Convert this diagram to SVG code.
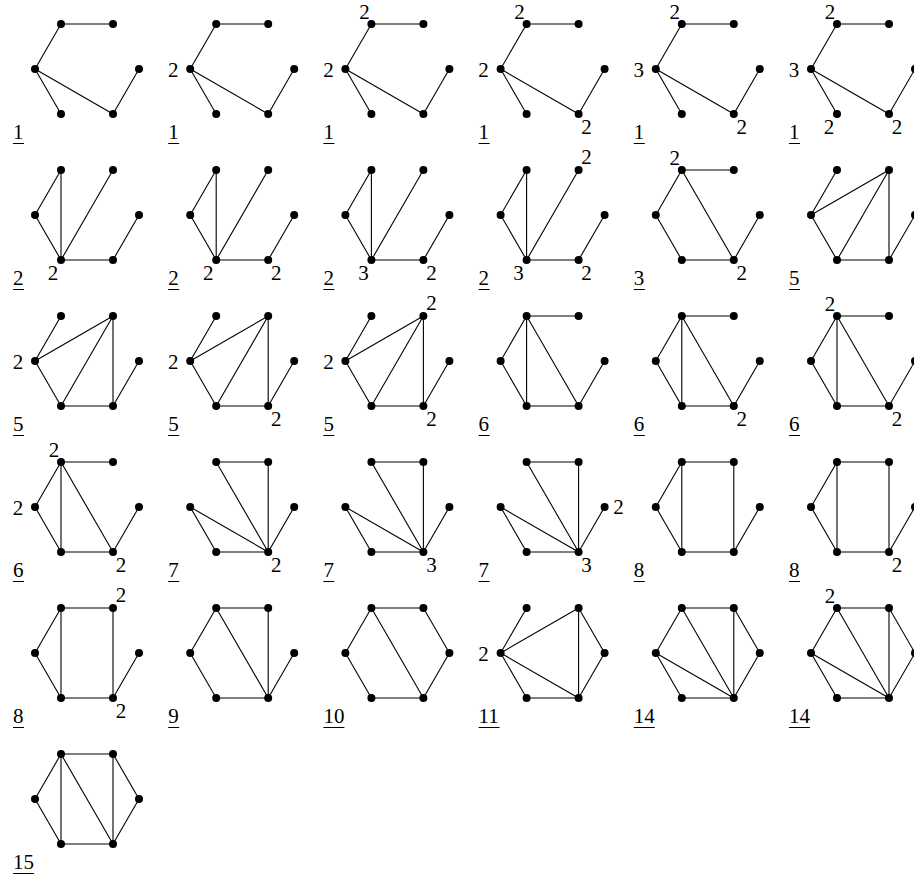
<svg xmlns="http://www.w3.org/2000/svg" width="914" height="881" viewBox="0 0 914 881" font-family="'Liberation Serif', 'Times New Roman', serif">
<style>
.e line{stroke:#000;stroke-width:1.1;fill:none}
circle{fill:#000}
text{font-family:'Liberation Serif','Times New Roman',serif;font-size:21px;fill:#000}
.v{text-anchor:middle}
.ul{stroke:#000;stroke-width:1}
</style>
<defs>
<circle id="dot" r="4"/>
</defs>
<rect width="914" height="881" fill="#fff"/>

<!-- Row 1 -->
<g id="g1" transform="translate(0,0)">
<g class="e"><line x1="61" y1="24" x2="113" y2="24"/><line x1="61" y1="24" x2="35" y2="69"/><line x1="35" y1="69" x2="61" y2="114"/><line x1="35" y1="69" x2="113" y2="114"/><line x1="113" y1="114" x2="139" y2="69"/></g>
<g id="g1-A"><use href="#dot" x="61" y="24"/></g><g id="g1-B"><use href="#dot" x="113" y="24"/></g><g id="g1-C"><use href="#dot" x="139" y="69"/></g><g id="g1-D"><use href="#dot" x="113" y="114"/></g><g id="g1-E"><use href="#dot" x="61" y="114"/></g><g id="g1-F"><use href="#dot" x="35" y="69"/></g>
<text x="13" y="139">1</text><line class="ul" x1="13" y1="143.5" x2="24" y2="143.5"/>
</g>
<g id="g2" transform="translate(155.2,0)">
<g class="e"><line x1="61" y1="24" x2="113" y2="24"/><line x1="61" y1="24" x2="35" y2="69"/><line x1="35" y1="69" x2="61" y2="114"/><line x1="35" y1="69" x2="113" y2="114"/><line x1="113" y1="114" x2="139" y2="69"/></g>
<g id="g2-A"><use href="#dot" x="61" y="24"/></g><g id="g2-B"><use href="#dot" x="113" y="24"/></g><g id="g2-C"><use href="#dot" x="139" y="69"/></g><g id="g2-D"><use href="#dot" x="113" y="114"/></g><g id="g2-E"><use href="#dot" x="61" y="114"/></g><g id="g2-F"><use href="#dot" x="35" y="69"/><text class="v" x="18" y="77">2</text></g>
<text x="13" y="139">1</text><line class="ul" x1="13" y1="143.5" x2="24" y2="143.5"/>
</g>
<g id="g3" transform="translate(310.4,0)">
<g class="e"><line x1="61" y1="24" x2="113" y2="24"/><line x1="61" y1="24" x2="35" y2="69"/><line x1="35" y1="69" x2="61" y2="114"/><line x1="35" y1="69" x2="113" y2="114"/><line x1="113" y1="114" x2="139" y2="69"/></g>
<g id="g3-A"><use href="#dot" x="61" y="24"/><text class="v" x="54" y="19">2</text></g><g id="g3-B"><use href="#dot" x="113" y="24"/></g><g id="g3-C"><use href="#dot" x="139" y="69"/></g><g id="g3-D"><use href="#dot" x="113" y="114"/></g><g id="g3-E"><use href="#dot" x="61" y="114"/></g><g id="g3-F"><use href="#dot" x="35" y="69"/><text class="v" x="18" y="77">2</text></g>
<text x="13" y="139">1</text><line class="ul" x1="13" y1="143.5" x2="24" y2="143.5"/>
</g>
<g id="g4" transform="translate(465.6,0)">
<g class="e"><line x1="61" y1="24" x2="113" y2="24"/><line x1="61" y1="24" x2="35" y2="69"/><line x1="35" y1="69" x2="61" y2="114"/><line x1="35" y1="69" x2="113" y2="114"/><line x1="113" y1="114" x2="139" y2="69"/></g>
<g id="g4-A"><use href="#dot" x="61" y="24"/><text class="v" x="54" y="19">2</text></g><g id="g4-B"><use href="#dot" x="113" y="24"/></g><g id="g4-C"><use href="#dot" x="139" y="69"/></g><g id="g4-D"><use href="#dot" x="113" y="114"/><text class="v" x="121" y="134">2</text></g><g id="g4-E"><use href="#dot" x="61" y="114"/></g><g id="g4-F"><use href="#dot" x="35" y="69"/><text class="v" x="18" y="77">2</text></g>
<text x="13" y="139">1</text><line class="ul" x1="13" y1="143.5" x2="24" y2="143.5"/>
</g>
<g id="g5" transform="translate(620.8,0)">
<g class="e"><line x1="61" y1="24" x2="113" y2="24"/><line x1="61" y1="24" x2="35" y2="69"/><line x1="35" y1="69" x2="61" y2="114"/><line x1="35" y1="69" x2="113" y2="114"/><line x1="113" y1="114" x2="139" y2="69"/></g>
<g id="g5-A"><use href="#dot" x="61" y="24"/><text class="v" x="54" y="19">2</text></g><g id="g5-B"><use href="#dot" x="113" y="24"/></g><g id="g5-C"><use href="#dot" x="139" y="69"/></g><g id="g5-D"><use href="#dot" x="113" y="114"/><text class="v" x="121" y="134">2</text></g><g id="g5-E"><use href="#dot" x="61" y="114"/></g><g id="g5-F"><use href="#dot" x="35" y="69"/><text class="v" x="18" y="77">3</text></g>
<text x="13" y="139">1</text><line class="ul" x1="13" y1="143.5" x2="24" y2="143.5"/>
</g>
<g id="g6" transform="translate(776,0)">
<g class="e"><line x1="61" y1="24" x2="113" y2="24"/><line x1="61" y1="24" x2="35" y2="69"/><line x1="35" y1="69" x2="61" y2="114"/><line x1="35" y1="69" x2="113" y2="114"/><line x1="113" y1="114" x2="139" y2="69"/></g>
<g id="g6-A"><use href="#dot" x="61" y="24"/><text class="v" x="54" y="19">2</text></g><g id="g6-B"><use href="#dot" x="113" y="24"/></g><g id="g6-C"><use href="#dot" x="139" y="69"/></g><g id="g6-D"><use href="#dot" x="113" y="114"/><text class="v" x="121" y="134">2</text></g><g id="g6-E"><use href="#dot" x="61" y="114"/><text class="v" x="53" y="134">2</text></g><g id="g6-F"><use href="#dot" x="35" y="69"/><text class="v" x="18" y="77">3</text></g>
<text x="13" y="139">1</text><line class="ul" x1="13" y1="143.5" x2="24" y2="143.5"/>
</g>

<!-- Row 2 -->
<g id="g7" transform="translate(0,146)">
<g class="e"><line x1="61" y1="24" x2="35" y2="69"/><line x1="61" y1="24" x2="61" y2="114"/><line x1="35" y1="69" x2="61" y2="114"/><line x1="61" y1="114" x2="113" y2="24"/><line x1="61" y1="114" x2="113" y2="114"/><line x1="113" y1="114" x2="139" y2="69"/></g>
<g id="g7-A"><use href="#dot" x="61" y="24"/></g><g id="g7-B"><use href="#dot" x="113" y="24"/></g><g id="g7-C"><use href="#dot" x="139" y="69"/></g><g id="g7-D"><use href="#dot" x="113" y="114"/></g><g id="g7-E"><use href="#dot" x="61" y="114"/><text class="v" x="53" y="134">2</text></g><g id="g7-F"><use href="#dot" x="35" y="69"/></g>
<text x="13" y="139">2</text><line class="ul" x1="13" y1="143.5" x2="24" y2="143.5"/>
</g>
<g id="g8" transform="translate(155.2,146)">
<g class="e"><line x1="61" y1="24" x2="35" y2="69"/><line x1="61" y1="24" x2="61" y2="114"/><line x1="35" y1="69" x2="61" y2="114"/><line x1="61" y1="114" x2="113" y2="24"/><line x1="61" y1="114" x2="113" y2="114"/><line x1="113" y1="114" x2="139" y2="69"/></g>
<g id="g8-A"><use href="#dot" x="61" y="24"/></g><g id="g8-B"><use href="#dot" x="113" y="24"/></g><g id="g8-C"><use href="#dot" x="139" y="69"/></g><g id="g8-D"><use href="#dot" x="113" y="114"/><text class="v" x="121" y="134">2</text></g><g id="g8-E"><use href="#dot" x="61" y="114"/><text class="v" x="53" y="134">2</text></g><g id="g8-F"><use href="#dot" x="35" y="69"/></g>
<text x="13" y="139">2</text><line class="ul" x1="13" y1="143.5" x2="24" y2="143.5"/>
</g>
<g id="g9" transform="translate(310.4,146)">
<g class="e"><line x1="61" y1="24" x2="35" y2="69"/><line x1="61" y1="24" x2="61" y2="114"/><line x1="35" y1="69" x2="61" y2="114"/><line x1="61" y1="114" x2="113" y2="24"/><line x1="61" y1="114" x2="113" y2="114"/><line x1="113" y1="114" x2="139" y2="69"/></g>
<g id="g9-A"><use href="#dot" x="61" y="24"/></g><g id="g9-B"><use href="#dot" x="113" y="24"/></g><g id="g9-C"><use href="#dot" x="139" y="69"/></g><g id="g9-D"><use href="#dot" x="113" y="114"/><text class="v" x="121" y="134">2</text></g><g id="g9-E"><use href="#dot" x="61" y="114"/><text class="v" x="53" y="134">3</text></g><g id="g9-F"><use href="#dot" x="35" y="69"/></g>
<text x="13" y="139">2</text><line class="ul" x1="13" y1="143.5" x2="24" y2="143.5"/>
</g>
<g id="g10" transform="translate(465.6,146)">
<g class="e"><line x1="61" y1="24" x2="35" y2="69"/><line x1="61" y1="24" x2="61" y2="114"/><line x1="35" y1="69" x2="61" y2="114"/><line x1="61" y1="114" x2="113" y2="24"/><line x1="61" y1="114" x2="113" y2="114"/><line x1="113" y1="114" x2="139" y2="69"/></g>
<g id="g10-A"><use href="#dot" x="61" y="24"/></g><g id="g10-B"><use href="#dot" x="113" y="24"/><text class="v" x="121" y="18">2</text></g><g id="g10-C"><use href="#dot" x="139" y="69"/></g><g id="g10-D"><use href="#dot" x="113" y="114"/><text class="v" x="121" y="134">2</text></g><g id="g10-E"><use href="#dot" x="61" y="114"/><text class="v" x="53" y="134">3</text></g><g id="g10-F"><use href="#dot" x="35" y="69"/></g>
<text x="13" y="139">2</text><line class="ul" x1="13" y1="143.5" x2="24" y2="143.5"/>
</g>
<g id="g11" transform="translate(620.8,146)">
<g class="e"><line x1="61" y1="24" x2="113" y2="24"/><line x1="61" y1="24" x2="35" y2="69"/><line x1="35" y1="69" x2="61" y2="114"/><line x1="61" y1="114" x2="113" y2="114"/><line x1="61" y1="24" x2="113" y2="114"/><line x1="113" y1="114" x2="139" y2="69"/></g>
<g id="g11-A"><use href="#dot" x="61" y="24"/><text class="v" x="54" y="19">2</text></g><g id="g11-B"><use href="#dot" x="113" y="24"/></g><g id="g11-C"><use href="#dot" x="139" y="69"/></g><g id="g11-D"><use href="#dot" x="113" y="114"/><text class="v" x="121" y="134">2</text></g><g id="g11-E"><use href="#dot" x="61" y="114"/></g><g id="g11-F"><use href="#dot" x="35" y="69"/></g>
<text x="13" y="139">3</text><line class="ul" x1="13" y1="143.5" x2="24" y2="143.5"/>
</g>
<g id="g12" transform="translate(776,146)">
<g class="e"><line x1="61" y1="24" x2="35" y2="69"/><line x1="35" y1="69" x2="113" y2="24"/><line x1="35" y1="69" x2="61" y2="114"/><line x1="61" y1="114" x2="113" y2="24"/><line x1="113" y1="24" x2="113" y2="114"/><line x1="61" y1="114" x2="113" y2="114"/><line x1="113" y1="114" x2="139" y2="69"/></g>
<g id="g12-A"><use href="#dot" x="61" y="24"/></g><g id="g12-B"><use href="#dot" x="113" y="24"/></g><g id="g12-C"><use href="#dot" x="139" y="69"/></g><g id="g12-D"><use href="#dot" x="113" y="114"/></g><g id="g12-E"><use href="#dot" x="61" y="114"/></g><g id="g12-F"><use href="#dot" x="35" y="69"/></g>
<text x="13" y="139">5</text><line class="ul" x1="13" y1="143.5" x2="24" y2="143.5"/>
</g>

<!-- Row 3 -->
<g id="g13" transform="translate(0,292)">
<g class="e"><line x1="61" y1="24" x2="35" y2="69"/><line x1="35" y1="69" x2="113" y2="24"/><line x1="35" y1="69" x2="61" y2="114"/><line x1="61" y1="114" x2="113" y2="24"/><line x1="113" y1="24" x2="113" y2="114"/><line x1="61" y1="114" x2="113" y2="114"/><line x1="113" y1="114" x2="139" y2="69"/></g>
<g id="g13-A"><use href="#dot" x="61" y="24"/></g><g id="g13-B"><use href="#dot" x="113" y="24"/></g><g id="g13-C"><use href="#dot" x="139" y="69"/></g><g id="g13-D"><use href="#dot" x="113" y="114"/></g><g id="g13-E"><use href="#dot" x="61" y="114"/></g><g id="g13-F"><use href="#dot" x="35" y="69"/><text class="v" x="18" y="77">2</text></g>
<text x="13" y="139">5</text><line class="ul" x1="13" y1="143.5" x2="24" y2="143.5"/>
</g>
<g id="g14" transform="translate(155.2,292)">
<g class="e"><line x1="61" y1="24" x2="35" y2="69"/><line x1="35" y1="69" x2="113" y2="24"/><line x1="35" y1="69" x2="61" y2="114"/><line x1="61" y1="114" x2="113" y2="24"/><line x1="113" y1="24" x2="113" y2="114"/><line x1="61" y1="114" x2="113" y2="114"/><line x1="113" y1="114" x2="139" y2="69"/></g>
<g id="g14-A"><use href="#dot" x="61" y="24"/></g><g id="g14-B"><use href="#dot" x="113" y="24"/></g><g id="g14-C"><use href="#dot" x="139" y="69"/></g><g id="g14-D"><use href="#dot" x="113" y="114"/><text class="v" x="121" y="134">2</text></g><g id="g14-E"><use href="#dot" x="61" y="114"/></g><g id="g14-F"><use href="#dot" x="35" y="69"/><text class="v" x="18" y="77">2</text></g>
<text x="13" y="139">5</text><line class="ul" x1="13" y1="143.5" x2="24" y2="143.5"/>
</g>
<g id="g15" transform="translate(310.4,292)">
<g class="e"><line x1="61" y1="24" x2="35" y2="69"/><line x1="35" y1="69" x2="113" y2="24"/><line x1="35" y1="69" x2="61" y2="114"/><line x1="61" y1="114" x2="113" y2="24"/><line x1="113" y1="24" x2="113" y2="114"/><line x1="61" y1="114" x2="113" y2="114"/><line x1="113" y1="114" x2="139" y2="69"/></g>
<g id="g15-A"><use href="#dot" x="61" y="24"/></g><g id="g15-B"><use href="#dot" x="113" y="24"/><text class="v" x="121" y="18">2</text></g><g id="g15-C"><use href="#dot" x="139" y="69"/></g><g id="g15-D"><use href="#dot" x="113" y="114"/><text class="v" x="121" y="134">2</text></g><g id="g15-E"><use href="#dot" x="61" y="114"/></g><g id="g15-F"><use href="#dot" x="35" y="69"/><text class="v" x="18" y="77">2</text></g>
<text x="13" y="139">5</text><line class="ul" x1="13" y1="143.5" x2="24" y2="143.5"/>
</g>
<g id="g16" transform="translate(465.6,292)">
<g class="e"><line x1="61" y1="24" x2="113" y2="24"/><line x1="61" y1="24" x2="35" y2="69"/><line x1="35" y1="69" x2="61" y2="114"/><line x1="61" y1="24" x2="61" y2="114"/><line x1="61" y1="24" x2="113" y2="114"/><line x1="61" y1="114" x2="113" y2="114"/><line x1="113" y1="114" x2="139" y2="69"/></g>
<g id="g16-A"><use href="#dot" x="61" y="24"/></g><g id="g16-B"><use href="#dot" x="113" y="24"/></g><g id="g16-C"><use href="#dot" x="139" y="69"/></g><g id="g16-D"><use href="#dot" x="113" y="114"/></g><g id="g16-E"><use href="#dot" x="61" y="114"/></g><g id="g16-F"><use href="#dot" x="35" y="69"/></g>
<text x="13" y="139">6</text><line class="ul" x1="13" y1="143.5" x2="24" y2="143.5"/>
</g>
<g id="g17" transform="translate(620.8,292)">
<g class="e"><line x1="61" y1="24" x2="113" y2="24"/><line x1="61" y1="24" x2="35" y2="69"/><line x1="35" y1="69" x2="61" y2="114"/><line x1="61" y1="24" x2="61" y2="114"/><line x1="61" y1="24" x2="113" y2="114"/><line x1="61" y1="114" x2="113" y2="114"/><line x1="113" y1="114" x2="139" y2="69"/></g>
<g id="g17-A"><use href="#dot" x="61" y="24"/></g><g id="g17-B"><use href="#dot" x="113" y="24"/></g><g id="g17-C"><use href="#dot" x="139" y="69"/></g><g id="g17-D"><use href="#dot" x="113" y="114"/><text class="v" x="121" y="134">2</text></g><g id="g17-E"><use href="#dot" x="61" y="114"/></g><g id="g17-F"><use href="#dot" x="35" y="69"/></g>
<text x="13" y="139">6</text><line class="ul" x1="13" y1="143.5" x2="24" y2="143.5"/>
</g>
<g id="g18" transform="translate(776,292)">
<g class="e"><line x1="61" y1="24" x2="113" y2="24"/><line x1="61" y1="24" x2="35" y2="69"/><line x1="35" y1="69" x2="61" y2="114"/><line x1="61" y1="24" x2="61" y2="114"/><line x1="61" y1="24" x2="113" y2="114"/><line x1="61" y1="114" x2="113" y2="114"/><line x1="113" y1="114" x2="139" y2="69"/></g>
<g id="g18-A"><use href="#dot" x="61" y="24"/><text class="v" x="54" y="19">2</text></g><g id="g18-B"><use href="#dot" x="113" y="24"/></g><g id="g18-C"><use href="#dot" x="139" y="69"/></g><g id="g18-D"><use href="#dot" x="113" y="114"/><text class="v" x="121" y="134">2</text></g><g id="g18-E"><use href="#dot" x="61" y="114"/></g><g id="g18-F"><use href="#dot" x="35" y="69"/></g>
<text x="13" y="139">6</text><line class="ul" x1="13" y1="143.5" x2="24" y2="143.5"/>
</g>

<!-- Row 4 -->
<g id="g19" transform="translate(0,438)">
<g class="e"><line x1="61" y1="24" x2="113" y2="24"/><line x1="61" y1="24" x2="35" y2="69"/><line x1="35" y1="69" x2="61" y2="114"/><line x1="61" y1="24" x2="61" y2="114"/><line x1="61" y1="24" x2="113" y2="114"/><line x1="61" y1="114" x2="113" y2="114"/><line x1="113" y1="114" x2="139" y2="69"/></g>
<g id="g19-A"><use href="#dot" x="61" y="24"/><text class="v" x="54" y="19">2</text></g><g id="g19-B"><use href="#dot" x="113" y="24"/></g><g id="g19-C"><use href="#dot" x="139" y="69"/></g><g id="g19-D"><use href="#dot" x="113" y="114"/><text class="v" x="121" y="134">2</text></g><g id="g19-E"><use href="#dot" x="61" y="114"/></g><g id="g19-F"><use href="#dot" x="35" y="69"/><text class="v" x="18" y="77">2</text></g>
<text x="13" y="139">6</text><line class="ul" x1="13" y1="143.5" x2="24" y2="143.5"/>
</g>
<g id="g20" transform="translate(155.2,438)">
<g class="e"><line x1="61" y1="24" x2="113" y2="24"/><line x1="61" y1="24" x2="113" y2="114"/><line x1="113" y1="24" x2="113" y2="114"/><line x1="35" y1="69" x2="113" y2="114"/><line x1="35" y1="69" x2="61" y2="114"/><line x1="61" y1="114" x2="113" y2="114"/><line x1="113" y1="114" x2="139" y2="69"/></g>
<g id="g20-A"><use href="#dot" x="61" y="24"/></g><g id="g20-B"><use href="#dot" x="113" y="24"/></g><g id="g20-C"><use href="#dot" x="139" y="69"/></g><g id="g20-D"><use href="#dot" x="113" y="114"/><text class="v" x="121" y="134">2</text></g><g id="g20-E"><use href="#dot" x="61" y="114"/></g><g id="g20-F"><use href="#dot" x="35" y="69"/></g>
<text x="13" y="139">7</text><line class="ul" x1="13" y1="143.5" x2="24" y2="143.5"/>
</g>
<g id="g21" transform="translate(310.4,438)">
<g class="e"><line x1="61" y1="24" x2="113" y2="24"/><line x1="61" y1="24" x2="113" y2="114"/><line x1="113" y1="24" x2="113" y2="114"/><line x1="35" y1="69" x2="113" y2="114"/><line x1="35" y1="69" x2="61" y2="114"/><line x1="61" y1="114" x2="113" y2="114"/><line x1="113" y1="114" x2="139" y2="69"/></g>
<g id="g21-A"><use href="#dot" x="61" y="24"/></g><g id="g21-B"><use href="#dot" x="113" y="24"/></g><g id="g21-C"><use href="#dot" x="139" y="69"/></g><g id="g21-D"><use href="#dot" x="113" y="114"/><text class="v" x="121" y="134">3</text></g><g id="g21-E"><use href="#dot" x="61" y="114"/></g><g id="g21-F"><use href="#dot" x="35" y="69"/></g>
<text x="13" y="139">7</text><line class="ul" x1="13" y1="143.5" x2="24" y2="143.5"/>
</g>
<g id="g22" transform="translate(465.6,438)">
<g class="e"><line x1="61" y1="24" x2="113" y2="24"/><line x1="61" y1="24" x2="113" y2="114"/><line x1="113" y1="24" x2="113" y2="114"/><line x1="35" y1="69" x2="113" y2="114"/><line x1="35" y1="69" x2="61" y2="114"/><line x1="61" y1="114" x2="113" y2="114"/><line x1="113" y1="114" x2="139" y2="69"/></g>
<g id="g22-A"><use href="#dot" x="61" y="24"/></g><g id="g22-B"><use href="#dot" x="113" y="24"/></g><g id="g22-C"><use href="#dot" x="139" y="69"/><text class="v" x="153" y="76">2</text></g><g id="g22-D"><use href="#dot" x="113" y="114"/><text class="v" x="121" y="134">3</text></g><g id="g22-E"><use href="#dot" x="61" y="114"/></g><g id="g22-F"><use href="#dot" x="35" y="69"/></g>
<text x="13" y="139">7</text><line class="ul" x1="13" y1="143.5" x2="24" y2="143.5"/>
</g>
<g id="g23" transform="translate(620.8,438)">
<g class="e"><line x1="61" y1="24" x2="113" y2="24"/><line x1="61" y1="24" x2="35" y2="69"/><line x1="35" y1="69" x2="61" y2="114"/><line x1="61" y1="24" x2="61" y2="114"/><line x1="113" y1="24" x2="113" y2="114"/><line x1="61" y1="114" x2="113" y2="114"/><line x1="113" y1="114" x2="139" y2="69"/></g>
<g id="g23-A"><use href="#dot" x="61" y="24"/></g><g id="g23-B"><use href="#dot" x="113" y="24"/></g><g id="g23-C"><use href="#dot" x="139" y="69"/></g><g id="g23-D"><use href="#dot" x="113" y="114"/></g><g id="g23-E"><use href="#dot" x="61" y="114"/></g><g id="g23-F"><use href="#dot" x="35" y="69"/></g>
<text x="13" y="139">8</text><line class="ul" x1="13" y1="143.5" x2="24" y2="143.5"/>
</g>
<g id="g24" transform="translate(776,438)">
<g class="e"><line x1="61" y1="24" x2="113" y2="24"/><line x1="61" y1="24" x2="35" y2="69"/><line x1="35" y1="69" x2="61" y2="114"/><line x1="61" y1="24" x2="61" y2="114"/><line x1="113" y1="24" x2="113" y2="114"/><line x1="61" y1="114" x2="113" y2="114"/><line x1="113" y1="114" x2="139" y2="69"/></g>
<g id="g24-A"><use href="#dot" x="61" y="24"/></g><g id="g24-B"><use href="#dot" x="113" y="24"/></g><g id="g24-C"><use href="#dot" x="139" y="69"/></g><g id="g24-D"><use href="#dot" x="113" y="114"/><text class="v" x="121" y="134">2</text></g><g id="g24-E"><use href="#dot" x="61" y="114"/></g><g id="g24-F"><use href="#dot" x="35" y="69"/></g>
<text x="13" y="139">8</text><line class="ul" x1="13" y1="143.5" x2="24" y2="143.5"/>
</g>

<!-- Row 5 -->
<g id="g25" transform="translate(0,584)">
<g class="e"><line x1="61" y1="24" x2="113" y2="24"/><line x1="61" y1="24" x2="35" y2="69"/><line x1="35" y1="69" x2="61" y2="114"/><line x1="61" y1="24" x2="61" y2="114"/><line x1="113" y1="24" x2="113" y2="114"/><line x1="61" y1="114" x2="113" y2="114"/><line x1="113" y1="114" x2="139" y2="69"/></g>
<g id="g25-A"><use href="#dot" x="61" y="24"/></g><g id="g25-B"><use href="#dot" x="113" y="24"/><text class="v" x="121" y="18">2</text></g><g id="g25-C"><use href="#dot" x="139" y="69"/></g><g id="g25-D"><use href="#dot" x="113" y="114"/><text class="v" x="121" y="134">2</text></g><g id="g25-E"><use href="#dot" x="61" y="114"/></g><g id="g25-F"><use href="#dot" x="35" y="69"/></g>
<text x="13" y="139">8</text><line class="ul" x1="13" y1="143.5" x2="24" y2="143.5"/>
</g>
<g id="g26" transform="translate(155.2,584)">
<g class="e"><line x1="61" y1="24" x2="113" y2="24"/><line x1="61" y1="24" x2="35" y2="69"/><line x1="35" y1="69" x2="61" y2="114"/><line x1="61" y1="114" x2="113" y2="114"/><line x1="61" y1="24" x2="113" y2="114"/><line x1="113" y1="24" x2="113" y2="114"/><line x1="113" y1="114" x2="139" y2="69"/></g>
<g id="g26-A"><use href="#dot" x="61" y="24"/></g><g id="g26-B"><use href="#dot" x="113" y="24"/></g><g id="g26-C"><use href="#dot" x="139" y="69"/></g><g id="g26-D"><use href="#dot" x="113" y="114"/></g><g id="g26-E"><use href="#dot" x="61" y="114"/></g><g id="g26-F"><use href="#dot" x="35" y="69"/></g>
<text x="13" y="139">9</text><line class="ul" x1="13" y1="143.5" x2="24" y2="143.5"/>
</g>
<g id="g27" transform="translate(310.4,584)">
<g class="e"><line x1="61" y1="24" x2="113" y2="24"/><line x1="61" y1="24" x2="35" y2="69"/><line x1="35" y1="69" x2="61" y2="114"/><line x1="61" y1="114" x2="113" y2="114"/><line x1="61" y1="24" x2="113" y2="114"/><line x1="113" y1="24" x2="139" y2="69"/><line x1="113" y1="114" x2="139" y2="69"/></g>
<g id="g27-A"><use href="#dot" x="61" y="24"/></g><g id="g27-B"><use href="#dot" x="113" y="24"/></g><g id="g27-C"><use href="#dot" x="139" y="69"/></g><g id="g27-D"><use href="#dot" x="113" y="114"/></g><g id="g27-E"><use href="#dot" x="61" y="114"/></g><g id="g27-F"><use href="#dot" x="35" y="69"/></g>
<text x="13" y="139">10</text><line class="ul" x1="13" y1="143.5" x2="34" y2="143.5"/>
</g>
<g id="g28" transform="translate(465.6,584)">
<g class="e"><line x1="35" y1="69" x2="61" y2="24"/><line x1="35" y1="69" x2="113" y2="24"/><line x1="35" y1="69" x2="113" y2="114"/><line x1="35" y1="69" x2="61" y2="114"/><line x1="61" y1="114" x2="113" y2="114"/><line x1="113" y1="24" x2="113" y2="114"/><line x1="113" y1="24" x2="139" y2="69"/><line x1="113" y1="114" x2="139" y2="69"/></g>
<g id="g28-A"><use href="#dot" x="61" y="24"/></g><g id="g28-B"><use href="#dot" x="113" y="24"/></g><g id="g28-C"><use href="#dot" x="139" y="69"/></g><g id="g28-D"><use href="#dot" x="113" y="114"/></g><g id="g28-E"><use href="#dot" x="61" y="114"/></g><g id="g28-F"><use href="#dot" x="35" y="69"/><text class="v" x="18" y="77">2</text></g>
<text x="13" y="139">11</text><line class="ul" x1="13" y1="143.5" x2="34" y2="143.5"/>
</g>
<g id="g29" transform="translate(620.8,584)">
<g class="e"><line x1="61" y1="24" x2="113" y2="24"/><line x1="113" y1="24" x2="139" y2="69"/><line x1="139" y1="69" x2="113" y2="114"/><line x1="113" y1="114" x2="61" y2="114"/><line x1="61" y1="114" x2="35" y2="69"/><line x1="35" y1="69" x2="61" y2="24"/><line x1="61" y1="24" x2="113" y2="114"/><line x1="113" y1="24" x2="113" y2="114"/><line x1="35" y1="69" x2="113" y2="114"/></g>
<g id="g29-A"><use href="#dot" x="61" y="24"/></g><g id="g29-B"><use href="#dot" x="113" y="24"/></g><g id="g29-C"><use href="#dot" x="139" y="69"/></g><g id="g29-D"><use href="#dot" x="113" y="114"/></g><g id="g29-E"><use href="#dot" x="61" y="114"/></g><g id="g29-F"><use href="#dot" x="35" y="69"/></g>
<text x="13" y="139">14</text><line class="ul" x1="13" y1="143.5" x2="34" y2="143.5"/>
</g>
<g id="g30" transform="translate(776,584)">
<g class="e"><line x1="61" y1="24" x2="113" y2="24"/><line x1="113" y1="24" x2="139" y2="69"/><line x1="139" y1="69" x2="113" y2="114"/><line x1="113" y1="114" x2="61" y2="114"/><line x1="61" y1="114" x2="35" y2="69"/><line x1="35" y1="69" x2="61" y2="24"/><line x1="61" y1="24" x2="113" y2="114"/><line x1="113" y1="24" x2="113" y2="114"/><line x1="35" y1="69" x2="113" y2="114"/></g>
<g id="g30-A"><use href="#dot" x="61" y="24"/><text class="v" x="54" y="19">2</text></g><g id="g30-B"><use href="#dot" x="113" y="24"/></g><g id="g30-C"><use href="#dot" x="139" y="69"/></g><g id="g30-D"><use href="#dot" x="113" y="114"/></g><g id="g30-E"><use href="#dot" x="61" y="114"/></g><g id="g30-F"><use href="#dot" x="35" y="69"/></g>
<text x="13" y="139">14</text><line class="ul" x1="13" y1="143.5" x2="34" y2="143.5"/>
</g>

<!-- Row 6 -->
<g id="g31" transform="translate(0,730)">
<g class="e"><line x1="61" y1="24" x2="113" y2="24"/><line x1="113" y1="24" x2="139" y2="69"/><line x1="139" y1="69" x2="113" y2="114"/><line x1="113" y1="114" x2="61" y2="114"/><line x1="61" y1="114" x2="35" y2="69"/><line x1="35" y1="69" x2="61" y2="24"/><line x1="61" y1="24" x2="61" y2="114"/><line x1="61" y1="24" x2="113" y2="114"/><line x1="113" y1="24" x2="113" y2="114"/></g>
<g id="g31-A"><use href="#dot" x="61" y="24"/></g><g id="g31-B"><use href="#dot" x="113" y="24"/></g><g id="g31-C"><use href="#dot" x="139" y="69"/></g><g id="g31-D"><use href="#dot" x="113" y="114"/></g><g id="g31-E"><use href="#dot" x="61" y="114"/></g><g id="g31-F"><use href="#dot" x="35" y="69"/></g>
<text x="13" y="139">15</text><line class="ul" x1="13" y1="143.5" x2="34" y2="143.5"/>
</g>
</svg>
